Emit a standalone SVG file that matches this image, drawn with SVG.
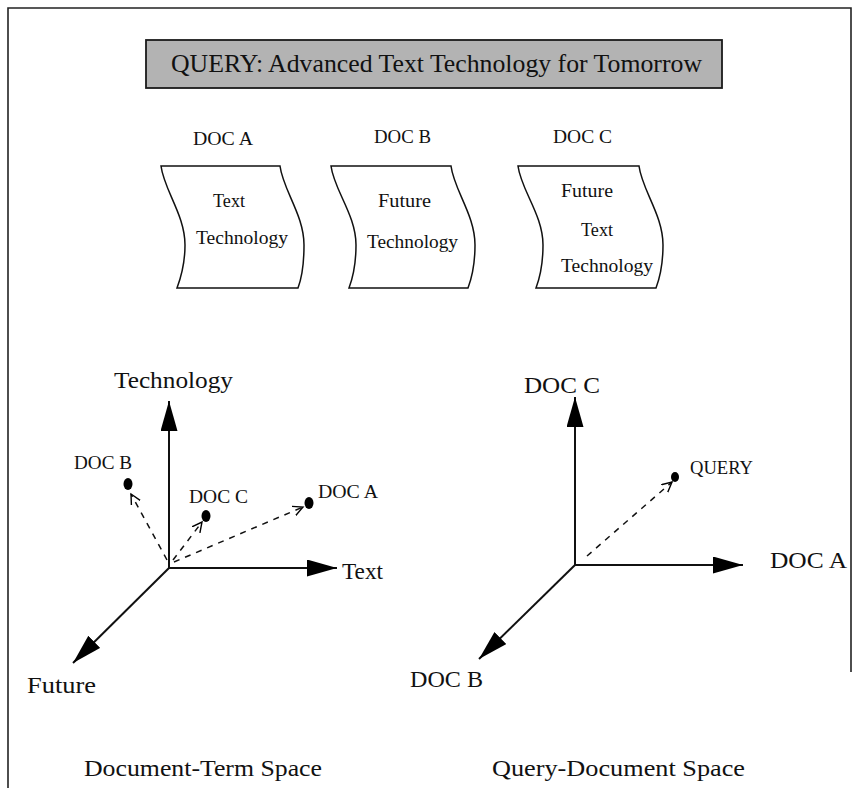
<svg xmlns="http://www.w3.org/2000/svg" width="857" height="788" viewBox="0 0 857 788">
  <style>
    text { font-family: "Liberation Serif", "Times New Roman", serif; fill: #111; }
    .frame { fill: none; stroke: #222; stroke-width: 1.6; }
    .doc { fill: #fff; stroke: #111; stroke-width: 1.5; }
    .axis { fill: none; stroke: #111; stroke-width: 2; }
    .vec { fill: none; stroke: #111; stroke-width: 1.5; stroke-dasharray: 6 6; }
    .dot { fill: #000; }
    .small { font-size: 18px; }
    .doctext { font-size: 18px; }
    .big { font-size: 24px; }
  </style>
  <defs>
    <marker id="solidHead" markerUnits="userSpaceOnUse" markerWidth="32" markerHeight="18" refX="30" refY="8.5" orient="auto">
      <path d="M0,0 L30,8.5 L0,17 Z" fill="#000"/>
    </marker>
    <marker id="openHead" markerUnits="userSpaceOnUse" markerWidth="12" markerHeight="12" refX="10" refY="5.5" orient="auto">
      <path d="M0,0.5 L10,5.5 L0,10.5" fill="none" stroke="#000" stroke-width="1.4" stroke-dasharray="none"/>
    </marker>
  </defs>

  <!-- page frame (open at the bottom) -->
  <path class="frame" d="M8,788 L8,8 L851,8 L851,672"/>

  <!-- query banner -->
  <g id="query">
    <rect x="146" y="40" width="576" height="48" fill="#b3b3b3" stroke="#1a1a1a" stroke-width="1.8"/>
    <text x="171" y="72" font-size="25" textLength="531" lengthAdjust="spacingAndGlyphs">QUERY: Advanced Text Technology for Tomorrow</text>
  </g>

  <!-- documents -->
  <g id="docA">
    <text class="doctext" x="193" y="145" textLength="60" lengthAdjust="spacingAndGlyphs">DOC A</text>
    <path class="doc" d="M161,166 L280,166 C283,190 304,215 304,245 C304,265 301,280 298,288 L177,288 C180,280 185,265 185,245 C185,215 164,190 161,166 Z"/>
    <text class="doctext" x="213" y="207" textLength="32" lengthAdjust="spacingAndGlyphs">Text</text>
    <text class="doctext" x="196" y="244" textLength="92" lengthAdjust="spacingAndGlyphs">Technology</text>
  </g>
  <g id="docB">
    <text class="doctext" x="374" y="143" textLength="57" lengthAdjust="spacingAndGlyphs">DOC B</text>
    <path class="doc" d="M331,166 L451,166 C454,190 475,215 475,245 C475,265 471,280 468,288 L349,288 C352,280 356,265 356,245 C356,215 334,190 331,166 Z"/>
    <text class="doctext" x="378" y="207" textLength="53" lengthAdjust="spacingAndGlyphs">Future</text>
    <text class="doctext" x="367" y="248" textLength="91" lengthAdjust="spacingAndGlyphs">Technology</text>
  </g>
  <g id="docC">
    <text class="doctext" x="553" y="143" textLength="59" lengthAdjust="spacingAndGlyphs">DOC C</text>
    <path class="doc" d="M518,166 L639,166 C642,190 663,215 663,245 C663,265 659,280 656,288 L536,288 C539,280 543,265 543,245 C543,215 521,190 518,166 Z"/>
    <text class="doctext" x="561" y="197" textLength="52" lengthAdjust="spacingAndGlyphs">Future</text>
    <text class="doctext" x="581" y="236" textLength="32" lengthAdjust="spacingAndGlyphs">Text</text>
    <text class="doctext" x="561" y="272" textLength="92" lengthAdjust="spacingAndGlyphs">Technology</text>
  </g>

  <!-- connectors: axes and vectors -->
  <g id="connectors">
    <!-- document-term space -->
    <path class="axis" d="M169,568 L169,401" marker-end="url(#solidHead)"/>
    <path class="axis" d="M169,568 L337,568" marker-end="url(#solidHead)"/>
    <path class="axis" d="M169,568 L73,663" marker-end="url(#solidHead)"/>
    <path class="vec" d="M167,560 L131,494" marker-end="url(#openHead)"/>
    <path class="vec" d="M173,560 L202,522" marker-end="url(#openHead)"/>
    <path class="vec" d="M174,562 L303,507" marker-end="url(#openHead)"/>
    <!-- query-document space -->
    <path class="axis" d="M575,565 L575,397" marker-end="url(#solidHead)"/>
    <path class="axis" d="M575,565 L743,565" marker-end="url(#solidHead)"/>
    <path class="axis" d="M575,565 L479,659" marker-end="url(#solidHead)"/>
    <path class="vec" d="M587,556 L672,482" marker-end="url(#openHead)"/>
  </g>

  <!-- document-term space labels and points -->
  <g id="termSpace">
    <text class="big" x="114" y="388" textLength="119" lengthAdjust="spacingAndGlyphs">Technology</text>
    <text class="big" x="342" y="579" textLength="41" lengthAdjust="spacingAndGlyphs">Text</text>
    <text class="big" x="27" y="693" textLength="69" lengthAdjust="spacingAndGlyphs">Future</text>
    <g id="pointB">
      <ellipse class="dot" cx="128" cy="484" rx="4.5" ry="6"/>
      <text class="small" x="74" y="469" textLength="58" lengthAdjust="spacingAndGlyphs">DOC B</text>
    </g>
    <g id="pointC">
      <ellipse class="dot" cx="206" cy="516" rx="4.5" ry="6"/>
      <text class="small" x="189" y="503" textLength="59" lengthAdjust="spacingAndGlyphs">DOC C</text>
    </g>
    <g id="pointA">
      <ellipse class="dot" cx="309" cy="503" rx="4.5" ry="6"/>
      <text class="small" x="318" y="498" textLength="60" lengthAdjust="spacingAndGlyphs">DOC A</text>
    </g>
    <text class="big" x="84" y="776" textLength="238" lengthAdjust="spacingAndGlyphs">Document-Term Space</text>
  </g>

  <!-- query-document space labels and point -->
  <g id="querySpace">
    <text class="big" x="524" y="393" font-size="25" textLength="76" lengthAdjust="spacingAndGlyphs">DOC C</text>
    <text class="big" x="770" y="568" font-size="25" textLength="77" lengthAdjust="spacingAndGlyphs">DOC A</text>
    <text class="big" x="410" y="687" textLength="73" lengthAdjust="spacingAndGlyphs">DOC B</text>
    <g id="pointQuery">
      <ellipse class="dot" cx="675" cy="477" rx="4" ry="5"/>
      <text class="small" x="690" y="474" textLength="63" lengthAdjust="spacingAndGlyphs">QUERY</text>
    </g>
    <text class="big" x="492" y="776" textLength="253" lengthAdjust="spacingAndGlyphs">Query-Document Space</text>
  </g>
</svg>
